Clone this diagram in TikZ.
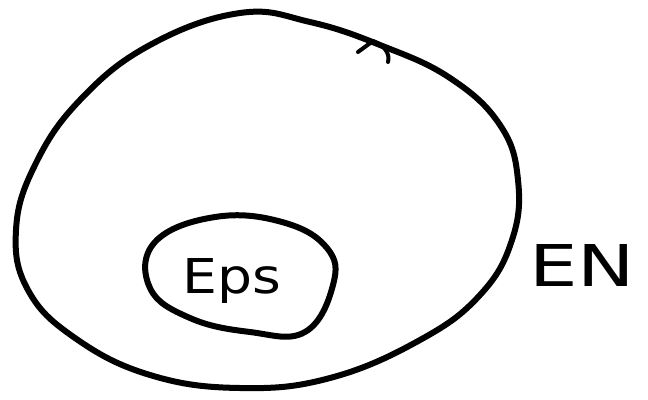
\documentclass[tikz,border=0pt]{standalone}
\usepackage{fontspec}
\setmainfont{DejaVu Sans}
\begin{document}
\begin{tikzpicture}[x=1pt,y=-1pt,
  stroke/.style={line width=6pt,line cap=round,line join=round,draw=black},
  label/.style={font=\fontsize{48}{48}\selectfont,inner sep=0pt}]
\useasboundingbox (0,0) rectangle (648,399);
\fill[white] (0,0) rectangle (648,399);
% outer closed curve
\draw[stroke] plot[smooth cycle,tension=0.7] coordinates {
  (240,13) (310,22) (380,45) (450,78) (500,125) (518,180)
  (512,240) (480,295) (420,340) (330,378) (240,388)
  (150,375) (75,338) (28,290) (16,230) (35,165) (80,100) (150,45)};
% direction mark
\draw[stroke,line width=4pt] (358,52) -- (373,41) .. controls (386,46) and (390,55) .. (388,62);
% inner ellipse
\draw[stroke] plot[smooth cycle,tension=0.7] coordinates {
  (215,217) (282,222) (327,248) (333,285) (305,332) (250,332)
  (190,318) (150,288) (155,242)};
\node[label,xscale=1.15] (eps) at (232,281) {Eps};
\node[label,xscale=1.6,yscale=1.2] (en) at (582,266) {EN};
\end{tikzpicture}
\end{document}
